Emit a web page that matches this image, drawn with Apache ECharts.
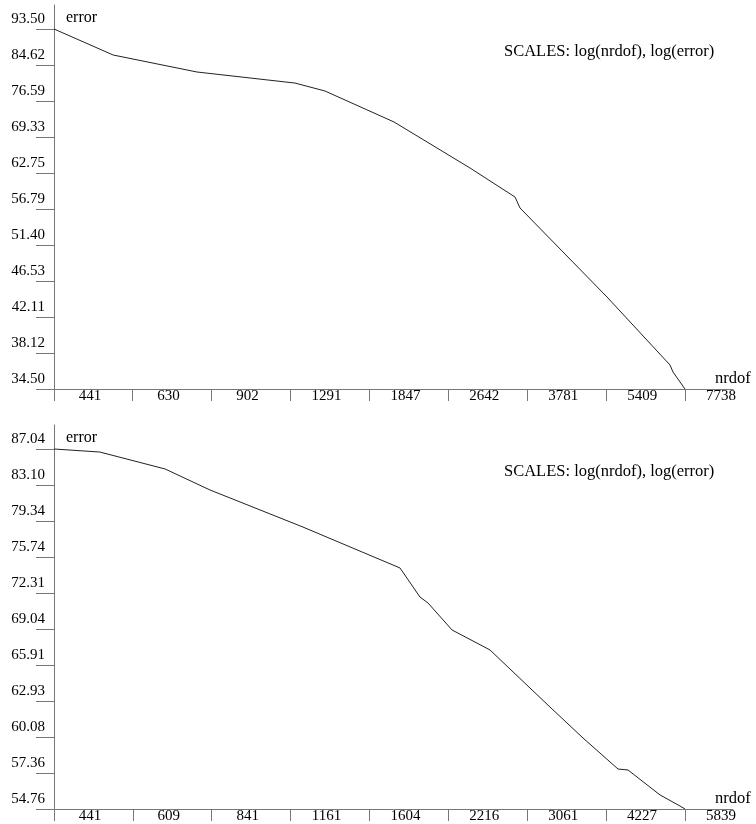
<!DOCTYPE html>
<html>
<head>
<meta charset="utf-8">
<script src="https://cdn.jsdelivr.net/npm/echarts@6/dist/echarts.min.js"></script>
<style>
  html, body { margin: 0; padding: 0; background: #fff; }
  #main { width: 756px; height: 824px; }
</style>
</head>
<body>
<div id="main"></div>
<script>
// top panel
const xTicks1 = [441, 630, 902, 1291, 1847, 2642, 3781, 5409, 7738];
const yTicks1 = [93.50, 84.62, 76.59, 69.33, 62.75, 56.79, 51.40, 46.53, 42.11, 38.12, 34.50];
const nrdof1 = [441, 577, 844, 1317, 1509, 2065, 2916, 3577, 3659, 5431, 7229, 7328, 7738];
const error1 = [93.50, 87.0, 83.0, 80.5, 78.75, 72.27, 63.62, 58.71, 56.95, 44.51, 36.87, 36.16, 34.50];

// bottom panel
const xTicks2 = [441, 609, 841, 1161, 1604, 2216, 3061, 4227, 5839];
const yTicks2 = [87.04, 83.10, 79.34, 75.74, 72.31, 69.04, 65.91, 62.93, 60.08, 57.36, 54.76];
const nrdof2 = [441, 532, 695, 835, 1222, 1818, 1973, 2039, 2250, 2628, 3360, 3846, 4439, 4624, 5271, 5722, 5839];
const error2 = [87.04, 86.70, 84.83, 82.57, 78.72, 74.68, 71.94, 71.39, 68.95, 67.20, 62.44, 60.00, 57.65, 57.58, 55.76, 54.97, 54.76];

const titleText = 'SCALES: log(nrdof), log(error)';

// layout: data area plus the bit the axis lines run past it
const LEFT = 54, PLOT_W = 631, EXT_X = 48, PLOT_H = 360, EXT_Y = 24;
const FONT = "'Liberation Serif', 'DejaVu Serif', serif";
const AXIS_COLOR = '#777';

function panel(i, top, xTicks, yTicks, xs, ys) {
    const xMin = xTicks[0], xEnd = xTicks[xTicks.length - 1];
    const yBot = yTicks[yTicks.length - 1], yTop = yTicks[0];
    return {
        grid: { left: LEFT, top: top - EXT_Y, width: PLOT_W + EXT_X, height: PLOT_H + EXT_Y },
        xAxis: {
            type: 'log', gridIndex: i,
            min: xMin,
            max: xEnd * Math.pow(xEnd / xMin, EXT_X / PLOT_W),
            name: 'nrdof', nameLocation: 'end', nameGap: -18,
            nameTextStyle: { color: '#000', fontFamily: FONT, fontSize: 16.5, align: 'left', verticalAlign: 'bottom', padding: [0, 0, 2, 0] },
            axisLine: { show: true, lineStyle: { color: AXIS_COLOR, width: 1 } },
            axisTick: { show: true, inside: false, length: 12, customValues: xTicks, lineStyle: { color: AXIS_COLOR } },
            axisLabel: {
                customValues: xTicks, color: '#000', fontFamily: FONT, fontSize: 15,
                margin: 0, align: 'center', padding: [0, 0, 0, 72],
                formatter: v => String(Math.round(v))
            },
            splitLine: { show: false }, minorTick: { show: false }
        },
        yAxis: {
            type: 'log', gridIndex: i,
            min: yBot,
            max: yTop * Math.pow(yTop / yBot, EXT_Y / PLOT_H),
            name: 'error', nameLocation: 'end', nameGap: -13,
            nameTextStyle: { color: '#000', fontFamily: FONT, fontSize: 16, align: 'left', verticalAlign: 'middle', padding: [0, 0, 0, 12] },
            axisLine: { show: true, lineStyle: { color: AXIS_COLOR, width: 1 } },
            axisTick: { show: true, inside: false, length: 18, customValues: yTicks, lineStyle: { color: AXIS_COLOR } },
            axisLabel: {
                customValues: yTicks, color: '#000', fontFamily: FONT, fontSize: 15,
                margin: 9, verticalAlign: 'bottom', padding: [0, 0, 2, 0],
                formatter: v => v.toFixed(2)
            },
            splitLine: { show: false }, minorTick: { show: false }
        },
        series: {
            type: 'line', xAxisIndex: i, yAxisIndex: i,
            data: xs.map((x, k) => [x, ys[k]]),
            symbol: 'none', smooth: false,
            lineStyle: { color: '#222', width: 1 }
        },
        title: {
            text: titleText, left: 504, top: top + 14, padding: 0,
            textStyle: { color: '#000', fontFamily: FONT, fontSize: 16.5, fontWeight: 'normal' }
        }
    };
}

const p1 = panel(0, 29, xTicks1, yTicks1, nrdof1, error1);
const p2 = panel(1, 449, xTicks2, yTicks2, nrdof2, error2);

let myChart = echarts.init(document.getElementById('main'));
myChart.setOption({
    animation: false,
    backgroundColor: '#fff',
    title: [p1.title, p2.title],
    grid: [p1.grid, p2.grid],
    xAxis: [p1.xAxis, p2.xAxis],
    yAxis: [p1.yAxis, p2.yAxis],
    series: [p1.series, p2.series]
});
</script>
</body>
</html>
